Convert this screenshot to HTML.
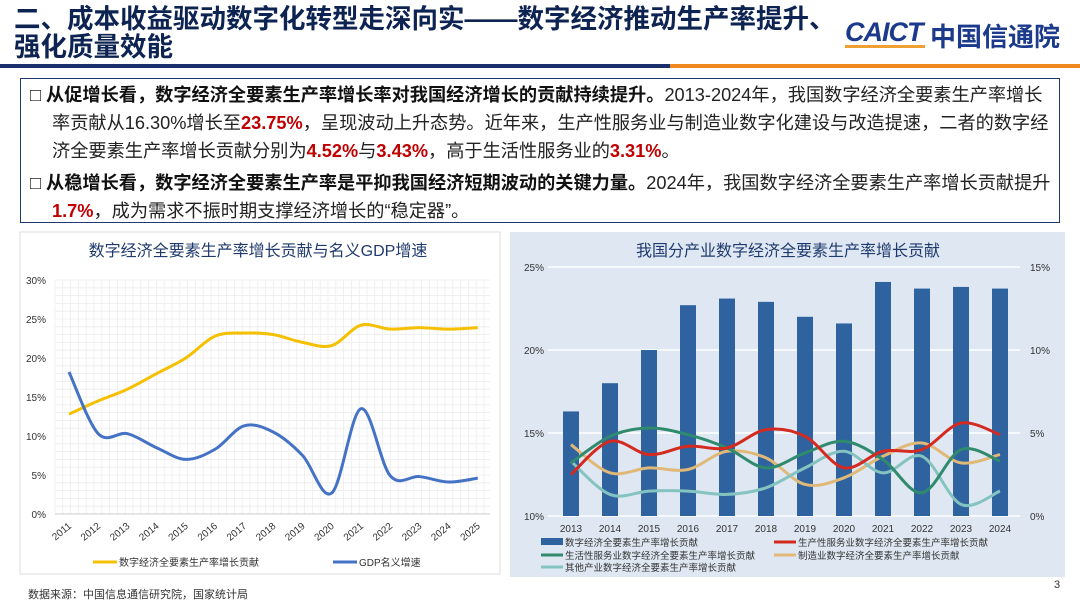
<!DOCTYPE html>
<html><head><meta charset="utf-8">
<style>
body{margin:0;width:1080px;height:608px;background:#fff;overflow:hidden;font-family:"Liberation Sans","Noto Sans CJK SC",sans-serif;}
svg text{font-family:"Liberation Sans","Noto Sans CJK SC",sans-serif;}
.t{position:absolute;left:14px;font-size:26.5px;font-weight:bold;color:#0d2352;line-height:28px;white-space:nowrap;}
.box{position:absolute;left:20px;top:78px;width:1038px;height:143px;border:1px solid #1f3a6e;}
.p{position:absolute;left:30px;font-size:18.2px;color:#222;line-height:28px;white-space:nowrap;}
.r{color:#c00000;font-weight:bold;}
b{color:#111;}
</style></head><body>
<div class="t" style="top:5px">二、成本收益驱动数字化转型走深向实——数字经济推动生产率提升、</div>
<div class="t" style="top:33px">强化质量效能</div>
<div style="position:absolute;left:845px;top:17px;font-size:27px;font-weight:bold;color:#1b3a8c;font-style:italic;letter-spacing:-1px">CAICT</div>
<div style="position:absolute;left:845px;top:45px;width:80px;height:3px;background:#f0a030"></div>
<div style="position:absolute;left:930px;top:17px;font-size:26px;font-weight:bold;color:#1b3a8c">中国信通院</div>
<div style="position:absolute;left:0;top:64px;width:670px;height:4px;background:#1b2f6e"></div>
<div style="position:absolute;left:670px;top:64px;width:410px;height:4px;background:#f08a20"></div>
<div class="box"></div>
<div class="p" style="top:81px">□ <b>从促增长看，数字经济全要素生产率增长率对我国经济增长的贡献持续提升。</b>2013-2024年，我国数字经济全要素生产率增长</div>
<div class="p" style="top:109px;left:52px">率贡献从16.30%增长至<span class="r">23.75%</span>，呈现波动上升态势。近年来，生产性服务业与制造业数字化建设与改造提速，二者的数字经</div>
<div class="p" style="top:137px;left:52px">济全要素生产率增长贡献分别为<span class="r">4.52%</span>与<span class="r">3.43%</span>，高于生活性服务业的<span class="r">3.31%</span>。</div>
<div class="p" style="top:169px">□ <b>从稳增长看，数字经济全要素生产率是平抑我国经济短期波动的关键力量。</b>2024年，我国数字经济全要素生产率增长贡献提升</div>
<div class="p" style="top:197px;left:52px"><span class="r">1.7%</span>，成为需求不振时期支撑经济增长的“稳定器”。</div>
<svg id="s" width="1080" height="608" style="position:absolute;left:0;top:0"></svg>
<script>
var s=document.getElementById('s'),h='';
function sm(pts){var d='M'+pts[0][0]+','+pts[0][1];for(var i=0;i<pts.length-1;i++){var p0=pts[i-1]||pts[i],p1=pts[i],p2=pts[i+1],p3=pts[i+2]||p2;var t=6;d+=' C'+(p1[0]+(p2[0]-p0[0])/t)+','+(p1[1]+(p2[1]-p0[1])/t)+' '+(p2[0]-(p3[0]-p1[0])/t)+','+(p2[1]-(p3[1]-p1[1])/t)+' '+p2[0]+','+p2[1];}return d;}
h+='<rect x="20" y="232" width="480" height="342" fill="#fff" stroke="#ddd"/>';
for(var x=55;x<=490;x+=7.8)h+='<line x1="'+x+'" y1="280" x2="'+x+'" y2="514" stroke="#ececec" stroke-width="0.8"/>';
for(var y=280;y<=514;y+=7.8)h+='<line x1="55" y1="'+y+'" x2="490" y2="'+y+'" stroke="#ececec" stroke-width="0.8"/>';
h+='<line x1="55" y1="514" x2="490" y2="514" stroke="#ccc"/>';
h+='<text x="258" y="256" font-size="16" fill="#1f3a6e" text-anchor="middle">数字经济全要素生产率增长贡献与名义GDP增速</text>';
for(var i=0;i<=6;i++)h+='<text x="46" y="'+(518-i*39)+'" font-size="10" fill="#333" text-anchor="end">'+(i*5)+'%</text>';
var yl=[12.8,14.5,16,18,20,22.8,23.2,23,22,21.6,24.2,23.7,23.9,23.7,23.9],bl=[18.2,10.3,10.3,8.5,7,8.3,11.3,10.5,7.5,2.7,13.5,4.9,4.8,4.1,4.6];
function lp(a){return a.map(function(v,i){return[69+i*29.2,514-v*7.8]})}
h+='<path d="'+sm(lp(yl))+'" fill="none" stroke="#f5c000" stroke-width="3"/>';
h+='<path d="'+sm(lp(bl))+'" fill="none" stroke="#4472c4" stroke-width="3"/>';
for(var i=0;i<15;i++){var x=72+i*29.2;h+='<text transform="translate('+x+',527) rotate(-40)" font-size="10" fill="#333" text-anchor="end">'+(2011+i)+'</text>';}
h+='<line x1="93" y1="562" x2="117" y2="562" stroke="#f5c000" stroke-width="3"/><text x="119" y="566" font-size="10" fill="#333">数字经济全要素生产率增长贡献</text>';
h+='<line x1="333" y1="562" x2="357" y2="562" stroke="#4472c4" stroke-width="3"/><text x="359" y="566" font-size="10" fill="#333">GDP名义增速</text>';
h+='<text x="28" y="598" font-size="11" fill="#333">数据来源：中国信息通信研究院，国家统计局</text>';
h+='<rect x="510" y="232" width="555" height="345" fill="#dfe8f2"/>';
h+='<text x="788" y="256" font-size="16" fill="#1f3a6e" text-anchor="middle">我国分产业数字经济全要素生产率增长贡献</text>';
for(var i=0;i<4;i++){var y=516-i*83;h+='<line x1="548" y1="'+y+'" x2="1020" y2="'+y+'" stroke="#fff" stroke-width="1.5"/>';h+='<text x="544" y="'+(y+4)+'" font-size="10" fill="#333" text-anchor="end">'+(10+i*5)+'%</text><text x="1030" y="'+(y+4)+'" font-size="10" fill="#333">'+(i*5)+'%</text>';}
var bars=[16.3,18,20,22.7,23.1,22.9,22,21.6,24.1,23.7,23.8,23.7];
for(var i=0;i<12;i++){var cx=571+i*39,y=516-(bars[i]-10)*16.6;h+='<rect x="'+(cx-8)+'" y="'+y+'" width="16" height="'+(516-y)+'" fill="#2e63a0"/>';h+='<text x="'+cx+'" y="532" font-size="10" fill="#333" text-anchor="middle">'+(2013+i)+'</text>';}
function rp(a){return a.map(function(v,i){return[571+i*39,516-v*16.6]})}
var ser=[['#e0b878',[4.3,2.6,2.9,2.8,3.9,3.5,1.9,2.3,3.6,4.4,3.2,3.7]],['#84c3c0',[3.3,1.3,1.5,1.5,1.3,1.7,2.9,3.9,2.6,3.6,0.7,1.5]],['#2f8a6e',[3.2,4.8,5.3,4.9,4.1,2.9,3.8,4.5,3.4,1.4,4.0,3.3]],['#d42a20',[2.5,4.5,3.7,4.2,4.1,5.2,4.8,2.9,3.9,4.0,5.6,4.9]]];
ser.forEach(function(q){h+='<path d="'+sm(rp(q[1]))+'" fill="none" stroke="'+q[0]+'" stroke-width="3"/>';});
var lg=[[541,542,'#2e63a0','数字经济全要素生产率增长贡献',1],[774,542,'#d42a20','生产性服务业数字经济全要素生产率增长贡献'],[541,555,'#2f8a6e','生活性服务业数字经济全要素生产率增长贡献'],[774,555,'#e0b878','制造业数字经济全要素生产率增长贡献'],[541,567,'#84c3c0','其他产业数字经济全要素生产率增长贡献']];
lg.forEach(function(l){h+=l[4]?'<rect x="'+l[0]+'" y="'+(l[1]-4)+'" width="22" height="7" fill="'+l[2]+'"/>':'<line x1="'+l[0]+'" y1="'+l[1]+'" x2="'+(l[0]+22)+'" y2="'+l[1]+'" stroke="'+l[2]+'" stroke-width="3"/>';h+='<text x="'+(l[0]+24)+'" y="'+(l[1]+4)+'" font-size="9.5" fill="#333">'+l[3]+'</text>';});
h+='<text x="1054" y="588" font-size="11" fill="#333">3</text>';
s.innerHTML=h;
</script>
</body></html>
